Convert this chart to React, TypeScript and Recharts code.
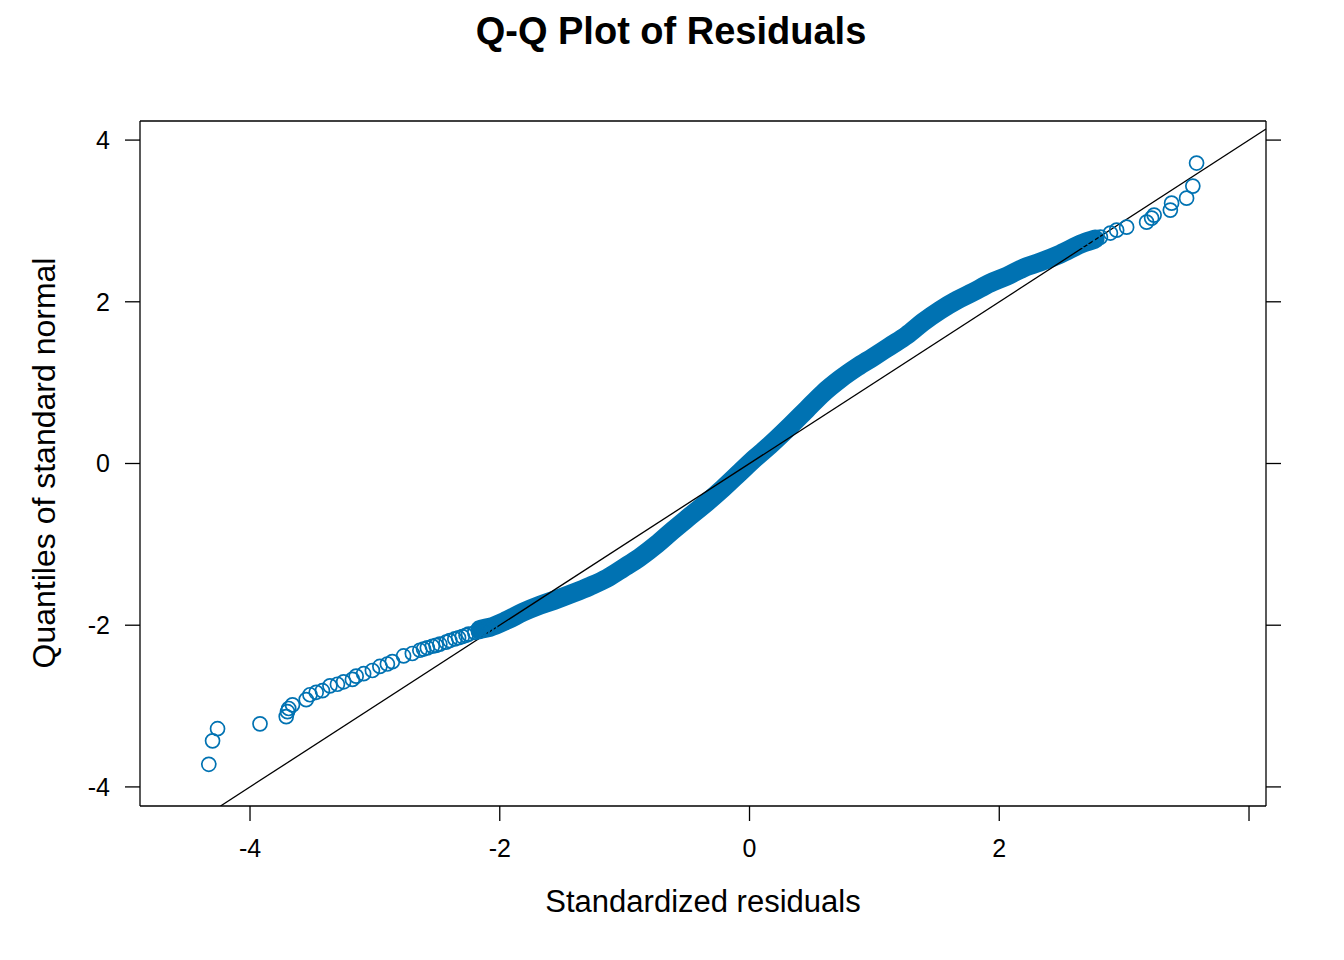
import { ComposedChart, Scatter, Line, XAxis, YAxis } from 'recharts';

// Q-Q plot: x = standardized residuals, y = theoretical normal quantiles
const X_TICKS = [-4, -2, 0, 2, 4];
const Y_TICKS = [-4, -2, 0, 2, 4];
const X_DOMAIN = [-4.881, 4.136];
const Y_DOMAIN = [-4.236, 4.236];

// sparse points in the tails (drawn as open circles)
const ringX = [-4.33, -4.30, -4.26, -3.92, -3.71, -3.70, -3.69, -3.66, -3.55, -3.52, -3.47, -3.42, -3.36, -3.30, -3.25, -3.18, -3.15, -3.09, -3.02, -2.96, -2.90, -2.86, -2.77, -2.70, -2.64, -2.61, -2.58, -2.54, -2.51, -2.48, -2.43, -2.40, -2.36, -2.33, -2.30, -2.27, -2.25, -2.20, -2.17, -2.14, -2.11, -2.08, 2.70, 2.75, 2.81, 2.89, 2.94, 3.02, 3.18, 3.22, 3.24, 3.37, 3.38, 3.50, 3.55, 3.58];
const ringY = [-3.72, -3.43, -3.28, -3.22, -3.13, -3.07, -3.03, -2.985, -2.92, -2.86, -2.83, -2.81, -2.75, -2.73, -2.70, -2.67, -2.63, -2.60, -2.56, -2.51, -2.48, -2.45, -2.38, -2.35, -2.31, -2.295, -2.28, -2.26, -2.25, -2.235, -2.21, -2.19, -2.17, -2.155, -2.14, -2.125, -2.11, -2.09, -2.08, -2.065, -2.05, -2.04, 2.74, 2.77, 2.80, 2.85, 2.886, 2.923, 2.985, 3.035, 3.072, 3.134, 3.22, 3.282, 3.431, 3.716];

// dense middle of the sample, where the circles merge into a solid band
const bandX = [-2.158, -2.078, -1.942, -1.814, -1.677, -1.541, -1.413, -1.277, -1.141, -1.013, -0.877, -0.741, -0.613, -0.477, -0.340, -0.212, -0.076, 0.044, 0.164, 0.324, 0.460, 0.589, 0.725, 0.861, 0.989, 1.125, 1.261, 1.389, 1.526, 1.662, 1.790, 1.926, 2.062, 2.190, 2.326, 2.486, 2.671, 2.767];
const bandY = [-2.050, -2.025, -1.938, -1.839, -1.752, -1.679, -1.604, -1.518, -1.419, -1.295, -1.159, -0.998, -0.825, -0.652, -0.479, -0.306, -0.108, 0.066, 0.227, 0.462, 0.672, 0.870, 1.043, 1.191, 1.315, 1.451, 1.587, 1.748, 1.896, 2.020, 2.119, 2.231, 2.317, 2.416, 2.490, 2.589, 2.725, 2.775];

// reference line y = x
const refX = [-4.236, 4.136];
const refY = [-4.236, 4.136];

const BLUE = '#0072B2';
const FONT = '"Liberation Sans", Arial, Helvetica, sans-serif';

const rings = ringX.map((x, i) => ({ x, y: ringY[i] }));
const band = bandX.map((x, i) => ({ x, y: bandY[i] }));
const refLine = refX.map((x, i) => ({ x, y: refY[i] }));

const Ring = (props: any) => (
  <circle cx={props.cx} cy={props.cy} r={7} fill="none" stroke={BLUE} strokeWidth={1.7} />
);

const axisStroke = { stroke: '#000', strokeWidth: 1.3 };
const tickStyle = { fontSize: 25, fill: '#000', fontFamily: FONT };

export default function App() {
  return (
    <div style={{ position: 'absolute', left: 0, top: 0, width: 1344, height: 960, background: '#fff', fontFamily: FONT }}>
      <div style={{ position: 'absolute', left: 0, top: 12, width: 1342, textAlign: 'center', fontSize: 38, lineHeight: '38px', fontWeight: 700, color: '#000' }}>
        Q-Q Plot of Residuals
      </div>
      <ComposedChart width={1344} height={960} margin={{ top: 81, right: 38, bottom: 94, left: 80 }}>
        <XAxis
          type="number"
          dataKey="x"
          domain={X_DOMAIN}
          allowDataOverflow
          ticks={X_TICKS}
          tickFormatter={(v: number) => (v === 4 ? '' : String(v))}
          tickSize={15}
          tickMargin={18}
          height={60}
          axisLine={axisStroke}
          tickLine={axisStroke}
          tick={tickStyle}
        />
        <XAxis
          xAxisId="top"
          orientation="top"
          type="number"
          domain={X_DOMAIN}
          allowDataOverflow
          ticks={X_TICKS}
          tickFormatter={() => ''}
          tickSize={15}
          height={40}
          axisLine={axisStroke}
          tickLine={axisStroke}
        />
        <YAxis
          type="number"
          dataKey="y"
          domain={Y_DOMAIN}
          allowDataOverflow
          ticks={Y_TICKS}
          tickSize={15}
          tickMargin={15}
          width={60}
          axisLine={axisStroke}
          tickLine={axisStroke}
          tick={tickStyle}
        />
        <YAxis
          yAxisId="right"
          orientation="right"
          type="number"
          domain={Y_DOMAIN}
          allowDataOverflow
          ticks={Y_TICKS}
          tickFormatter={() => ''}
          tickSize={15}
          width={40}
          axisLine={axisStroke}
          tickLine={axisStroke}
        />
        <Line
          data={band}
          dataKey="y"
          type="monotone"
          stroke={BLUE}
          strokeWidth={19}
          strokeLinecap="round"
          dot={false}
          activeDot={false}
          isAnimationActive={false}
        />
        <Scatter data={rings} dataKey="y" shape={Ring} isAnimationActive={false} />
        <Line
          data={refLine}
          dataKey="y"
          type="linear"
          stroke="#000"
          strokeWidth={1.3}
          dot={false}
          activeDot={false}
          isAnimationActive={false}
        />
      </ComposedChart>
      <div style={{ position: 'absolute', left: 0, top: 886, width: 1406, textAlign: 'center', fontSize: 31, lineHeight: '31px', color: '#000' }}>
        Standardized residuals
      </div>
      <div style={{ position: 'absolute', left: 44, top: 463, transform: 'translate(-50%, -50%) rotate(-90deg)', whiteSpace: 'nowrap', fontSize: 32, lineHeight: '32px', color: '#000' }}>
        Quantiles of standard normal
      </div>
    </div>
  );
}
